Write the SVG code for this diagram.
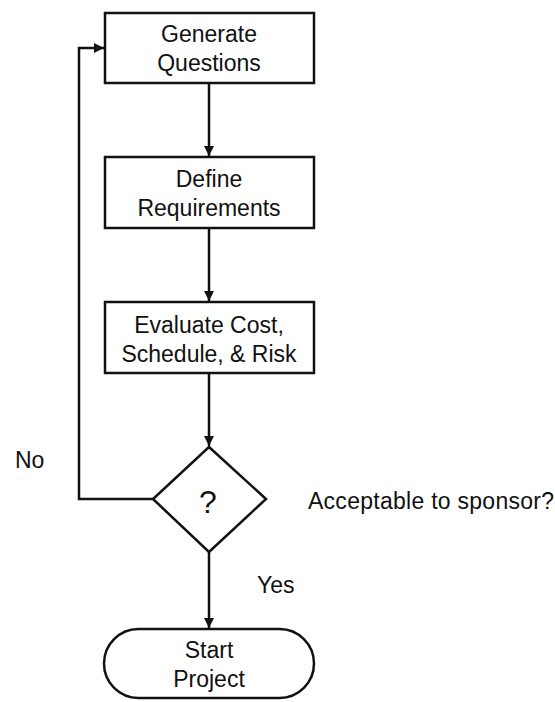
<svg xmlns="http://www.w3.org/2000/svg" width="555" height="702" viewBox="0 0 555 702">
<defs>
<style>
.box{fill:#fff;stroke:#111;stroke-width:2.5}
.t{font-family:"Liberation Sans",Arial,sans-serif;font-size:23px;fill:#111;text-anchor:middle}
.l{font-family:"Liberation Sans",Arial,sans-serif;font-size:23px;fill:#111}
.c{fill:none;stroke:#111;stroke-width:2.5}
</style>
<marker id="ah" viewBox="0 0 10 10" refX="10" refY="5" markerWidth="4" markerHeight="4" orient="auto" markerUnits="strokeWidth">
<path d="M0,0 L10,5 L0,10 z" fill="#111"/>
</marker>
</defs>
<rect width="555" height="702" fill="#fff"/>
<g id="connectors">
<path class="c" d="M209,83 V156" marker-end="url(#ah)"/>
<path class="c" d="M209,228 V301" marker-end="url(#ah)"/>
<path class="c" d="M209,373 V446" marker-end="url(#ah)"/>
<path class="c" d="M153,499 H79 V48 H104" marker-end="url(#ah)"/>
<path class="c" d="M209,552 V628" marker-end="url(#ah)"/>
</g>
<g id="generate">
<rect class="box" x="105" y="13" width="209" height="70"/>
<text class="t" x="209" y="42">Generate</text>
<text class="t" x="209" y="71">Questions</text>
</g>
<g id="define">
<rect class="box" x="105" y="157" width="209" height="71"/>
<text class="t" x="209" y="187">Define</text>
<text class="t" x="209" y="216">Requirements</text>
</g>
<g id="evaluate">
<rect class="box" x="105" y="302" width="209" height="71"/>
<text class="t" x="209" y="333">Evaluate Cost,</text>
<text class="t" x="209" y="362">Schedule,  &amp; Risk</text>
</g>
<g id="decision">
<polygon class="box" points="209,447 266,499 209,552 153,499"/>
<text class="t" x="208" y="513" style="font-size:32px">?</text>
</g>
<g id="start">
<rect class="box" x="104" y="629" width="210" height="69" rx="34.5" ry="34.5"/>
<text class="t" x="209" y="658">Start</text>
<text class="t" x="209" y="687">Project</text>
</g>
<g id="labels">
<text class="l" x="15" y="468">No</text>
<text class="l" x="257" y="593">Yes</text>
<text class="l" x="308" y="509" textLength="246" lengthAdjust="spacing">Acceptable to sponsor?</text>
</g>
</svg>
